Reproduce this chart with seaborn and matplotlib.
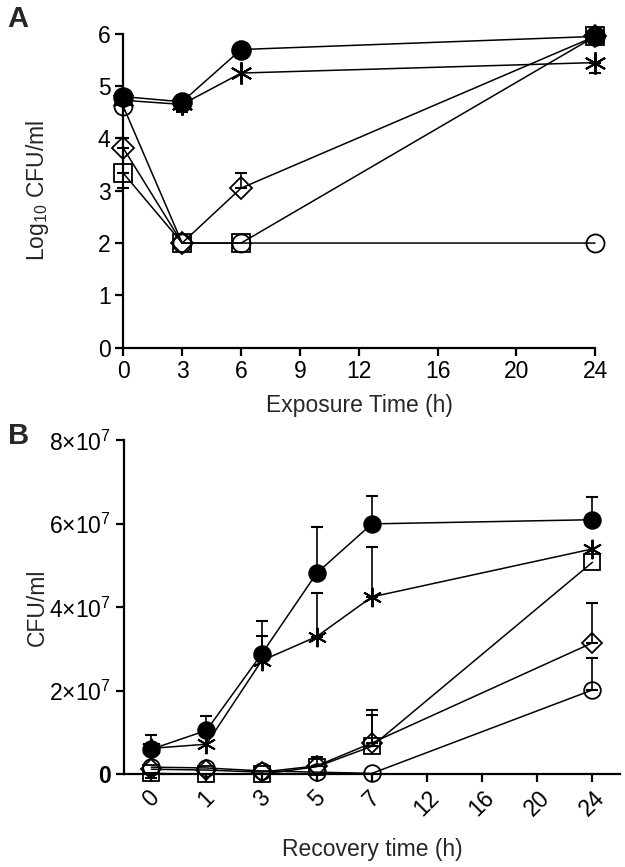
import numpy as np
import pandas as pd
import matplotlib
matplotlib.use("Agg")
import matplotlib.pyplot as plt
import seaborn as sns

# ---------------- data ----------------
# Panel A: exposure time (h) vs log10 CFU/ml
time_a = [0, 3, 6, 24]
ticks_a = [0, 3, 6, 9, 12, 16, 20, 24]
a_filled_circle = [4.80, 4.70, 5.70, 5.95]
a_filled_circle_err = [0.05, -0.18, 0.0, 0.0]
a_asterisk = [4.73, 4.65, 5.25, 5.45]
a_asterisk_err = [0.0, -0.15, 0.0, -0.2]
a_open_circle = [4.62, 2.0, 2.0, 2.0]
a_diamond = [3.82, 2.0, 3.05, 5.95]
a_diamond_err = [0.19, 0.0, 0.29, 0.0]
a_square = [3.34, 2.0, 2.0, 5.95]
a_square_err = [-0.28, 0.0, 0.0, 0.0]

# Panel B: recovery time (h) vs CFU/ml
time_b = [0, 1, 3, 5, 7, 24]
ticks_b = [0, 1, 3, 5, 7, 12, 16, 20, 24]
b_filled_circle = [0.60e7, 1.05e7, 2.88e7, 4.82e7, 6.00e7, 6.10e7]
b_filled_circle_err = [0.33e7, 0.34e7, 0.80e7, 1.10e7, 0.68e7, 0.55e7]
b_asterisk = [0.62e7, 0.72e7, 2.72e7, 3.30e7, 4.25e7, 5.40e7]
b_asterisk_err = [0.0, 0.0, 0.60e7, 1.05e7, 1.20e7, 0.0]
b_open_circle = [0.17e7, 0.15e7, 0.08e7, 0.05e7, 0.02e7, 2.02e7]
b_open_circle_err = [0.0, 0.0, 0.0, 0.0, 0.0, 0.77e7]
b_diamond = [0.12e7, 0.10e7, 0.05e7, 0.20e7, 0.75e7, 3.15e7]
b_diamond_err = [0.0, 0.0, 0.0, 0.22e7, 0.78e7, 0.95e7]
b_square = [0.02e7, 0.0, 0.0, 0.18e7, 0.67e7, 5.08e7]
b_square_err = [-0.10e7, 0.0, 0.0, 0.0, 0.74e7, 0.0]

# ---------------- style ----------------
sns.set_theme(style="ticks")
plt.rcParams['font.family'] = ['Liberation Sans', 'DejaVu Sans']
plt.rcParams['mathtext.fontset'] = 'custom'
plt.rcParams['mathtext.rm'] = 'Liberation Sans'
plt.rcParams['mathtext.it'] = 'Liberation Sans:italic'
plt.rcParams['mathtext.bf'] = 'Liberation Sans:bold'

fig = plt.figure(figsize=(6.25, 8.67), dpi=100)
axA = fig.add_axes([0.197, 0.599, 0.755, 0.362])
axB = fig.add_axes([0.198, 0.107, 0.794, 0.385])

K = 'black'
FS = 16.5


def draw_series(ax, x, y, err, marker, ms, mfc, mew=1.3, z=3):
    df = pd.DataFrame({'x': x, 'y': y})
    sns.lineplot(data=df, x='x', y='y', ax=ax, color=K, lw=1.1,
                 marker=marker, markersize=ms, markerfacecolor=mfc,
                 markeredgecolor=K, markeredgewidth=mew, errorbar=None,
                 zorder=z, clip_on=False)
    if err is not None:
        for xi, yi, e in zip(x, y, err):
            if e == 0:
                continue
            lo = [max(-e, 0)]
            hi = [max(e, 0)]
            ax.errorbar([xi], [yi], yerr=[lo, hi], fmt='none', ecolor=K,
                        elinewidth=1.2, capsize=4.5, capthick=1.5,
                        zorder=z - 0.5, clip_on=False)


ast = (6, 2, 0)

# ---- Panel A ----
draw_series(axA, time_a, a_open_circle, None, 'o', 13, 'none', z=3)
draw_series(axA, time_a, a_diamond, a_diamond_err, 'D', 11.5, 'none', z=3.2)
draw_series(axA, time_a, a_square, a_square_err, 's', 13, 'none', z=3.4)
draw_series(axA, time_a, a_asterisk, a_asterisk_err, ast, 16, K, mew=1.5, z=3.6)
draw_series(axA, time_a, a_filled_circle, a_filled_circle_err, 'o', 13.5, K, z=3.8)

axA.set_xlim(0, 24)
axA.set_ylim(0, 6)
axA.set_xticks(ticks_a)
axA.set_xticklabels([str(t) for t in ticks_a])
axA.set_yticks([0, 1, 2, 3, 4, 5, 6])
axA.set_xlabel('Exposure Time (h)', fontsize=FS, labelpad=8)
axA.set_ylabel('Log$_{10}$ CFU/ml', fontsize=FS, labelpad=34)

# ---- Panel B ----
xb = [ticks_b.index(t) for t in time_b]
draw_series(axB, xb, b_open_circle, b_open_circle_err, 'o', 12, 'none', z=3)
draw_series(axB, xb, b_diamond, b_diamond_err, 'D', 10, 'none', z=3.2)
draw_series(axB, xb, b_square, b_square_err, 's', 11, 'none', z=3.4)
draw_series(axB, xb, b_asterisk, b_asterisk_err, ast, 14, K, mew=1.4, z=3.6)
draw_series(axB, xb, b_filled_circle, b_filled_circle_err, 'o', 12, K, z=3.8)

axB.set_xlim(-0.5, len(ticks_b) - 0.5)
axB.set_ylim(0, 8e7)
axB.set_xticks(range(len(ticks_b)))
axB.set_xticklabels([str(t) for t in ticks_b], rotation=45, ha='center')
axB.set_yticks([0, 2e7, 4e7, 6e7, 8e7])
axB.set_yticklabels(['0', r'2$\times$10$^{7}$', r'4$\times$10$^{7}$',
                     r'6$\times$10$^{7}$', r'8$\times$10$^{7}$'])
axB.get_yticklabels()[0].set_fontweight('bold')
axB.set_xlabel('Recovery time (h)', fontsize=FS, labelpad=12)
axB.set_ylabel('CFU/ml', fontsize=FS, labelpad=0)

for ax in (axA, axB):
    sns.despine(ax=ax)
    for s in ('left', 'bottom'):
        ax.spines[s].set_linewidth(1.6)
        ax.spines[s].set_color(K)
    ax.tick_params(axis='both', direction='out', length=6, width=1.6,
                   colors=K, labelsize=FS, pad=3)

fig.text(0.012, 0.978, 'A', fontsize=21, fontweight='bold', va='center')
fig.text(0.012, 0.497, 'B', fontsize=21, fontweight='bold', va='center')

fig.savefig('out.png', dpi=100)
